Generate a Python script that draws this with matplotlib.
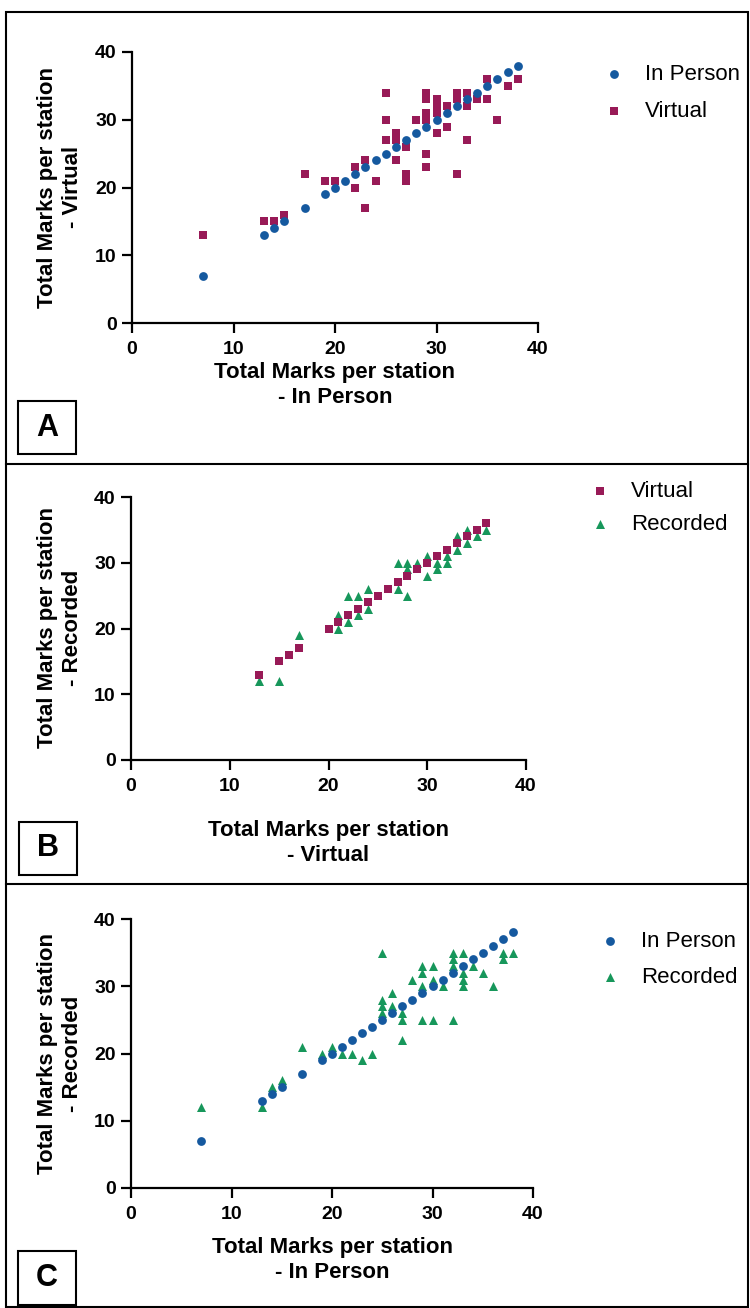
import matplotlib
matplotlib.use("Agg")
import matplotlib.pyplot as plt
from matplotlib.lines import Line2D
from matplotlib.patches import Rectangle

plt.rcParams['font.family'] = ['Liberation Sans', 'DejaVu Sans']

# ---- data ----
# panel A: in person vs virtual
inperson_A = [7, 13, 14, 15, 17, 19, 20, 21, 22, 23, 24, 25, 26, 27, 28, 29, 30,
              31, 32, 33, 34, 35, 36, 37, 38]
virtual_A_x = [7, 13, 14, 15, 17, 19, 20, 22, 22, 23, 23, 24, 25, 25, 25, 26, 26, 26,
               27, 27, 27, 28, 29, 29, 29, 29, 29, 29, 30, 30, 30, 30, 31, 31, 32, 32,
               32, 33, 33, 33, 34, 35, 35, 36, 37, 38]
virtual_A_y = [13, 15, 15, 16, 22, 21, 21, 23, 20, 24, 17, 21, 34, 30, 27, 28, 27, 24,
               26, 22, 21, 30, 34, 33, 31, 30, 25, 23, 33, 32, 31, 28, 32, 29, 34, 33,
               22, 34, 32, 27, 33, 36, 33, 30, 35, 36]

# panel B: virtual vs recorded
virtual_B = [13, 15, 16, 17, 20, 21, 22, 23, 24, 25, 26, 27, 28, 29, 30, 31, 32,
             33, 34, 35, 36]
recorded_B_x = [13, 15, 17, 21, 21, 22, 22, 23, 23, 24, 24, 27, 27, 28, 28, 28, 29,
                30, 30, 31, 31, 32, 32, 33, 33, 34, 34, 35, 36]
recorded_B_y = [12, 12, 19, 22, 20, 25, 21, 25, 22, 26, 23, 30, 26, 30, 29, 25, 30,
                31, 28, 30, 29, 31, 30, 34, 32, 35, 33, 34, 35]

# panel C: in person vs recorded
inperson_C = [7, 13, 14, 15, 17, 19, 20, 21, 22, 23, 24, 25, 26, 27, 28, 29, 30,
              31, 32, 33, 34, 35, 36, 37, 38]
recorded_C_x = [7, 13, 14, 15, 17, 19, 20, 21, 22, 23, 24, 25, 25, 25, 25, 26, 26,
                27, 27, 27, 28, 29, 29, 29, 29, 30, 30, 30, 31, 32, 32, 32, 32, 33,
                33, 33, 33, 34, 35, 36, 37, 37, 38]
recorded_C_y = [12, 12, 15, 16, 21, 20, 21, 20, 20, 19, 20, 35, 28, 27, 26, 29, 27,
                26, 25, 22, 31, 33, 32, 30, 25, 33, 31, 25, 30, 35, 34, 33, 25, 35,
                32, 31, 30, 33, 32, 30, 35, 34, 35]

ticks = [0, 10, 20, 30, 40]
blue = '#15599f'
maroon = '#981a57'
green = '#17975b'

W, H = 750.0, 1308.0
fig = plt.figure(figsize=(7.5, 13.08), dpi=100)


def fx(px):
    return px / W


def fy(py):
    return 1 - py / H


def make_axes(left, right, top, bottom):
    ax = fig.add_axes([fx(left), fy(bottom), fx(right - left), (bottom - top) / H])
    ax.set_xlim(0, 40)
    ax.set_ylim(0, 40)
    ax.set_xticks(ticks)
    ax.set_yticks(ticks)
    for s in ['top', 'right']:
        ax.spines[s].set_visible(False)
    for s in ['left', 'bottom']:
        ax.spines[s].set_linewidth(1.6)
    ax.tick_params(direction='out', length=7, width=1.6, pad=4, labelsize=14)
    ax.tick_params(axis='x', pad=6)
    for lab in ax.get_xticklabels() + ax.get_yticklabels():
        lab.set_fontweight('bold')
    return ax


def put_legend(ax, mx, y1, spacing):
    fs = 16
    half = fs * 100 / 72 / 2
    ax.legend(loc='upper left', bbox_to_anchor=(fx(mx - half), fy(y1 - 8)),
              bbox_transform=fig.transFigure, frameon=False, fontsize=fs,
              handlelength=1.0, handletextpad=0.9, borderpad=0, borderaxespad=0,
              labelspacing=spacing, markerscale=1.0)


def titles(cx, cy, xlabel, ycx, ycy, ylabel):
    fig.text(fx(cx), fy(cy), 'Total Marks per station\n' + xlabel, ha='center',
             va='center', fontsize=16, fontweight='bold', linespacing=1.25)
    fig.text(fx(ycx), fy(ycy), 'Total Marks per station\n' + ylabel, ha='center',
             va='center', rotation=90, fontsize=16, fontweight='bold', linespacing=1.25)


def letter_box(x0, y0, x1, y1, txt):
    fig.add_artist(Rectangle((fx(x0), fy(y1)), fx(x1 - x0), (y1 - y0) / H,
                             transform=fig.transFigure, fill=False, lw=1.5,
                             edgecolor='black'))
    fig.text(fx((x0 + x1) / 2), fy((y0 + y1) / 2), txt, ha='center', va='center',
             fontsize=22, fontweight='bold')


# ---- panel A ----
axA = make_axes(132, 538, 52, 323)
axA.scatter(inperson_A, inperson_A, s=40, marker='o', color=blue, label='In Person',
            zorder=4, clip_on=False, linewidths=0)
axA.scatter(virtual_A_x, virtual_A_y, s=38, marker='s', color=maroon, label='Virtual',
            zorder=3, clip_on=False, linewidths=0)
put_legend(axA, 614, 72, 0.73)
titles(335, 385, '- In Person', 60, 187, '- Virtual')
letter_box(18, 401, 76, 454, 'A')

# ---- panel B ----
axB = make_axes(131, 526, 497, 760)
axB.scatter(virtual_B, virtual_B, s=38, marker='s', color=maroon, label='Virtual',
            zorder=4, clip_on=False, linewidths=0)
axB.scatter(recorded_B_x, recorded_B_y, s=42, marker='^', color=green, label='Recorded',
            zorder=3, clip_on=False, linewidths=0)
put_legend(axB, 600, 489, 0.53)
titles(328, 843, '- Virtual', 60, 628, '- Recorded')
letter_box(19, 822, 77, 875, 'B')

# ---- panel C ----
axC = make_axes(131, 533, 919, 1188)
axC.scatter(inperson_C, inperson_C, s=40, marker='o', color=blue, label='In Person',
            zorder=4, clip_on=False, linewidths=0)
axC.scatter(recorded_C_x, recorded_C_y, s=42, marker='^', color=green, label='Recorded',
            zorder=3, clip_on=False, linewidths=0)
put_legend(axC, 610, 939, 0.68)
titles(332, 1260, '- In Person', 60, 1054, '- Recorded')
letter_box(18, 1251, 76, 1305, 'C')

# ---- frame and dividers ----
fig.add_artist(Rectangle((fx(6), fy(1307)), fx(742), 1295 / H, transform=fig.transFigure,
                         fill=False, lw=1.5, edgecolor='black'))
for yy in [464, 884]:
    fig.add_artist(Line2D([fx(6), fx(748)], [fy(yy), fy(yy)], transform=fig.transFigure,
                          color='black', lw=1.5))

fig.savefig('out.png', dpi=100)
